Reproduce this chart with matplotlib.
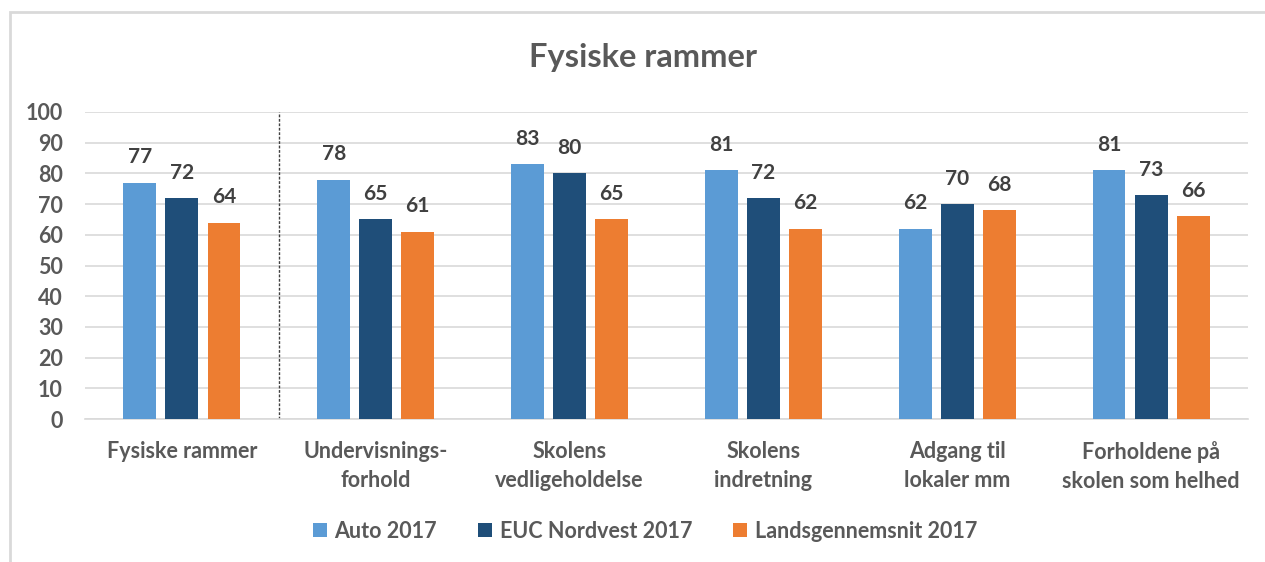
import numpy as np
import matplotlib
matplotlib.use("Agg")
from matplotlib import pyplot as plt
from matplotlib.patches import Rectangle

plt.rcParams["font.family"] = ["Lato", "DejaVu Sans"]

# ----------------------------------------------------------------------------
# Data
# ----------------------------------------------------------------------------
categories = [
    "Fysiske rammer",
    "Undervisnings-\nforhold",
    "Skolens\nvedligeholdelse",
    "Skolens\nindretning",
    "Adgang til\nlokaler mm",
    "Forholdene på\nskolen som helhed",
]
series_names = ["Auto 2017", "EUC Nordvest 2017", "Landsgennemsnit 2017"]
auto_2017 = [77, 78, 83, 81, 62, 81]
euc_2017 = [72, 65, 80, 72, 70, 73]
lands_2017 = [64, 61, 65, 62, 68, 66]
y_ticks = [0, 10, 20, 30, 40, 50, 60, 70, 80, 90, 100]

colors = ["#5B9BD5", "#1F4E79", "#ED7D31"]
TEXT_GRAY = "#595959"
LABEL_GRAY = "#404040"
GRID = "#D9D9D9"

# ----------------------------------------------------------------------------
# Plot
# ----------------------------------------------------------------------------
W, H = 1265, 562
fig = plt.figure(figsize=(W / 100, H / 100), dpi=100)
ax = fig.add_axes([85 / W, 1 - 419 / H, (1248 - 85) / W, (419 - 112) / H])

x = np.arange(len(categories))
bar_w = 0.17
step = 0.217
all_series = [auto_2017, euc_2017, lands_2017]
handles = []
for i, (vals, name, col) in enumerate(zip(all_series, series_names, colors)):
    bars = ax.bar(x + (i - 1) * step, vals, width=bar_w, color=col, label=name,
                  zorder=3)
    handles.append(bars)
    for b, v in zip(bars, vals):
        ax.annotate(f"{v}", (b.get_x() + b.get_width() / 2, v),
                    xytext=(0, 11), textcoords="offset points",
                    ha="center", va="bottom", fontsize=15, fontweight="bold",
                    color=LABEL_GRAY)

ax.set_xlim(-0.5, len(categories) - 0.5)
ax.set_ylim(0, 100)
ax.set_yticks(y_ticks)
ax.set_yticklabels([str(t) for t in y_ticks], fontsize=15.5, fontweight="bold",
                   color=TEXT_GRAY)
ax.set_xticks(x)
ax.set_xticklabels(categories, fontsize=15.5, fontweight="bold", color=TEXT_GRAY,
                   linespacing=1.45)
ax.tick_params(axis="y", length=0, pad=16)
ax.tick_params(axis="x", length=0, pad=16)
ax.grid(axis="y", color=GRID, linewidth=1.2, zorder=0)
for s in ["top", "right", "left"]:
    ax.spines[s].set_visible(False)
ax.spines["bottom"].set_color(GRID)
ax.spines["bottom"].set_linewidth(1.2)

# dotted separator after the first group
ax.axvline(0.5, ymin=0, ymax=1, color="#404040", linestyle=(0, (2, 1.2)),
           linewidth=1, zorder=2)

fig.text(643 / W, 1 - 58 / H, "Fysiske rammer", ha="center", va="center",
         fontsize=23.5, fontweight="bold", color=TEXT_GRAY)

fig.legend(handles=handles, labels=series_names, loc="center",
           bbox_to_anchor=(645 / W, 1 - 531 / H), ncol=3, frameon=False,
           prop={"size": 15.5, "weight": "bold"}, labelcolor=TEXT_GRAY,
           handlelength=0.65, handleheight=0.65, handletextpad=0.35,
           columnspacing=1.9)

# chart frame
fig.patches.append(Rectangle((10 / W, -0.05), 1.1, 1 - 12 / H + 0.05,
                             transform=fig.transFigure, fill=False,
                             edgecolor=GRID, linewidth=2))

fig.savefig("out.png", dpi=100)
